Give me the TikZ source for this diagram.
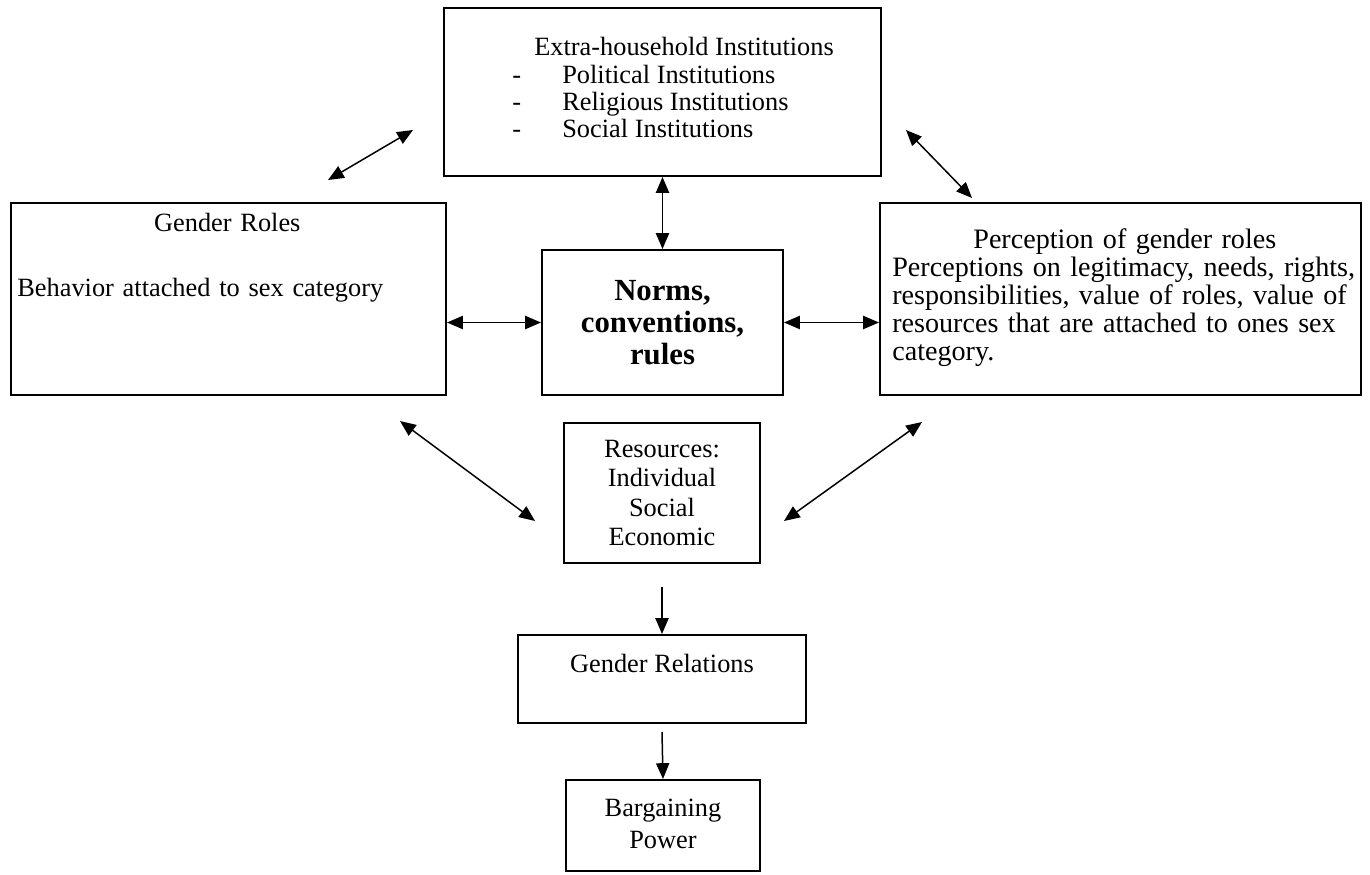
\documentclass[tikz,border=0pt]{standalone}
\usepackage{fontspec}
\setmainfont{Liberation Serif}
\usetikzlibrary{arrows.meta,fit,positioning}

\begin{document}
\begin{tikzpicture}[
      x=0.02cm, y=-0.02cm,
      box/.style={draw, line width=1.15pt, inner sep=0pt},
      txt/.style={inner sep=0pt, font=\fontsize{15}{16.8}\selectfont},
      arr/.style={{Triangle[length=9pt,width=7.5pt]}-{Triangle[length=9pt,width=7.5pt]}, line width=0.85pt},
      oneway/.style={-{Triangle[length=9pt,width=7.5pt]}, line width=0.85pt}
    ]
      \path[use as bounding box, fill=white] (0,0) rectangle (1370,875);

      % boxes
      \node[box, fit={(444,8) (881,176)}] (ext) {};
      \node[box, fit={(11,203) (446,395)}] (gr) {};
      \node[box, fit={(542,250) (783,395)}] (norms) {};
      \node[box, fit={(880,203) (1361,395)}] (perc) {};
      \node[box, fit={(564,423) (760,563)}] (res) {};
      \node[box, fit={(518,635) (806,723)}] (grel) {};
      \node[box, fit={(566,780) (760,871)}] (barg) {};

      % texts
      \node[txt, font=\fontsize{15}{15.6}\selectfont, anchor=north west, align=left] (exttxt) at (512,37) {
        \hspace*{0.44cm}Extra-household Institutions\\
        \makebox[1cm][l]{-}Political Institutions\\
        \makebox[1cm][l]{-}Religious Institutions\\
        \makebox[1cm][l]{-}Social Institutions
      };
      \node[txt, anchor=north west, text width=8.4cm, align=left] (grtxt) at (17,213) {
        {\centering Gender Roles\par}
        \vspace{20pt}
        Behavior attached to sex category
      };
      \node[txt, font=\fontsize{17.5}{18.3}\selectfont\bfseries, align=center] (normstxt) at (norms.center) {
        Norms,\\conventions,\\rules
      };
      \node[txt, font=\fontsize{16}{16}\selectfont, anchor=north west, text width=9.3cm, align=left] (perctxt) at (892,228) {
        {\centering Perception of gender roles\par}
        Perceptions on legitimacy, needs, rights,\\
        responsibilities, value of roles, value of\\
        resources that are attached to ones sex\\
        category.
      };
      \node[txt, align=center] (restxt) at (res.center) {
        Resources:\\Individual\\Social\\Economic
      };
      \node[txt, anchor=base] (greltxt) at (662,672) {Gender Relations};
      \node[txt, anchor=north, align=center] (bargtxt) at (663,799) {Bargaining\\[1.5pt]Power};

      % free arrow ends
      \coordinate (tla) at (328,180);
      \coordinate (tlb) at (413,130);
      \coordinate (tra) at (906,130);
      \coordinate (trb) at (972,198);
      \coordinate (bla) at (400,421);
      \coordinate (blb) at (535,521);
      \coordinate (bra) at (922,422);
      \coordinate (brb) at (784,521);
      \coordinate (r1) at (662,587);
      \coordinate (g1) at (662,732);

      \draw[arr] (tla) -- (tlb);
      \draw[arr] (tra) -- (trb);
      \draw[arr] (bla) -- (blb);
      \draw[arr] (bra) -- (brb);
      \draw[arr] (ext.south) -- (norms.north);
      \draw[arr] (norms.west -| gr.east) -- (norms.west);
      \draw[arr] (norms.east) -- (norms.east -| perc.west);
      \draw[oneway] (r1) -- (grel.north);
      \draw[oneway] (g1) -- (barg.north);
    \end{tikzpicture}
\end{document}
